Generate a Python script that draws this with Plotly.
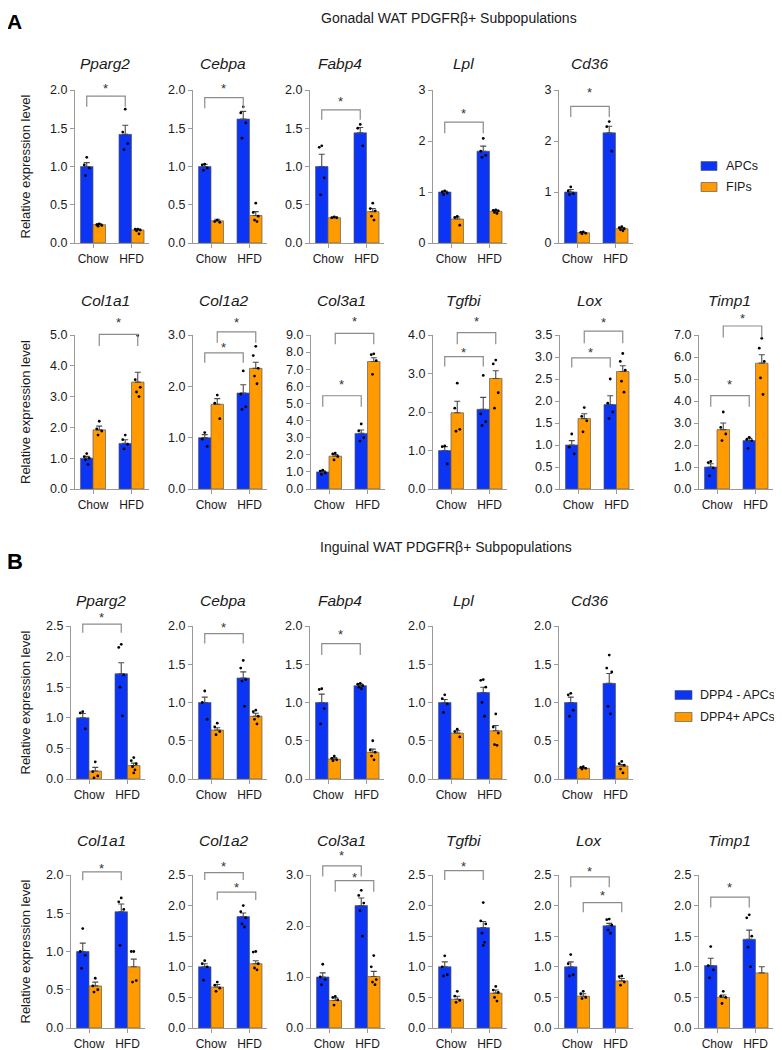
import plotly.graph_objects as go

W, H = 782, 1050

# ---------------- DATA ----------------
groups = ["Chow", "HFD"]
genes = ["Pparg2", "Cebpa", "Fabp4", "Lpl", "Cd36",
         "Col1a1", "Col1a2", "Col3a1", "Tgfbi", "Lox", "Timp1"]

gon_title = "Gonadal WAT PDGFRβ+ Subpopulations"
ing_title = "Inguinal WAT PDGFRβ+ Subpopulations"
gon_series = ["APCs", "FIPs"]
ing_series = ["DPP4 - APCs", "DPP4+ APCs"]

# Gonadal: series 1 = APCs, series 2 = FIPs ; each entry [Chow, HFD]
gon_s1_mean = [[1.00, 1.42], [1.00, 1.62], [1.00, 1.44], [1.00, 1.80], [1.00, 2.16],
               [1.00, 1.48], [1.00, 1.87], [1.00, 3.25], [1.00, 2.07], [1.00, 1.92], [1.00, 2.20]]
gon_s1_sem = [[0.05, 0.12], [0.03, 0.10], [0.16, 0.07], [0.02, 0.10], [0.05, 0.13],
              [0.06, 0.12], [0.06, 0.16], [0.06, 0.20], [0.10, 0.31], [0.10, 0.20], [0.15, 0.10]]
gon_s2_mean = [[0.24, 0.17], [0.29, 0.36], [0.33, 0.41], [0.47, 0.62], [0.20, 0.28],
               [1.92, 3.47], [1.65, 2.35], [1.92, 7.45], [1.98, 2.87], [1.60, 2.67], [2.70, 5.72]]
gon_s2_sem = [[0.01, 0.01], [0.02, 0.05], [0.01, 0.04], [0.04, 0.02], [0.01, 0.02],
              [0.12, 0.32], [0.11, 0.12], [0.10, 0.22], [0.30, 0.20], [0.11, 0.13], [0.30, 0.38]]
gon_s1_dots = [
    [[1.12, 1.02, 0.98, 0.88], [1.75, 1.45, 1.30, 1.22]],
    [[1.03, 1.02, 0.98, 0.95], [1.78, 1.70, 1.57, 1.37]],
    [[1.27, 1.25, 0.85, 0.63], [1.55, 1.50, 1.27]],
    [[1.02, 1.00, 0.98, 0.95], [2.05, 1.80, 1.72, 1.68]],
    [[1.10, 1.02, 0.97, 0.95], [2.38, 2.28, 1.80]],
    [[1.15, 1.05, 1.00, 0.95, 0.80], [1.75, 1.60, 1.45, 1.30]],
    [[1.10, 0.97, 0.83], [2.30, 1.85, 1.60, 1.55]],
    [[1.10, 1.05, 0.95, 0.85], [3.80, 3.40, 3.00, 2.80]],
    [[1.12, 1.10, 0.65], [2.95, 1.95, 1.75, 1.65]],
    [[1.25, 0.95, 0.80], [2.50, 1.95, 1.75, 1.60]],
    [[1.25, 1.20, 0.95, 0.60], [2.35, 2.25, 2.20, 1.85]],
]
gon_s2_dots = [
    [[0.25, 0.24, 0.23, 0.22], [0.18, 0.18, 0.17, 0.16, 0.12]],
    [[0.30, 0.28, 0.27], [0.52, 0.40, 0.35, 0.30, 0.28]],
    [[0.34, 0.33, 0.33], [0.52, 0.45, 0.42, 0.35, 0.30]],
    [[0.52, 0.50, 0.35], [0.65, 0.64, 0.63, 0.60, 0.58]],
    [[0.22, 0.21, 0.19, 0.18], [0.32, 0.30, 0.28, 0.26, 0.24]],
    [[2.20, 1.95, 1.88, 1.75], [4.98, 3.55, 3.30, 3.15, 3.00]],
    [[1.83, 1.67, 1.37], [2.78, 2.60, 2.35, 2.20, 2.05]],
    [[2.10, 2.05, 1.90, 1.70], [7.90, 7.85, 7.50, 6.70]],
    [[2.75, 2.10, 1.55, 1.50], [3.35, 3.25, 2.50, 2.10]],
    [[1.85, 1.65, 1.55, 1.30], [3.08, 2.90, 2.70, 2.45, 2.20]],
    [[3.50, 2.80, 2.50, 2.20], [6.85, 6.40, 5.80, 5.05, 4.30]],
]

# Inguinal: series 1 = DPP4- APCs, series 2 = DPP4+ APCs
ing_s1_mean = [[1.00, 1.72], [1.00, 1.32], [1.00, 1.22], [1.00, 1.13], [1.00, 1.25],
               [1.00, 1.52], [1.00, 1.82], [1.00, 2.40], [1.00, 1.64], [1.00, 1.67], [1.02, 1.45]]
ing_s1_sem = [[0.07, 0.18], [0.07, 0.08], [0.11, 0.02], [0.04, 0.07], [0.07, 0.13],
              [0.11, 0.10], [0.05, 0.06], [0.08, 0.15], [0.08, 0.10], [0.08, 0.04], [0.12, 0.15]]
ing_s2_mean = [[0.13, 0.22], [0.64, 0.82], [0.26, 0.35], [0.60, 0.63], [0.14, 0.17],
               [0.55, 0.80], [0.67, 1.05], [0.54, 1.01], [0.47, 0.57], [0.52, 0.77], [0.50, 0.90]]
ing_s2_sem = [[0.06, 0.04], [0.03, 0.04], [0.02, 0.04], [0.03, 0.07], [0.01, 0.02],
              [0.05, 0.10], [0.04, 0.05], [0.05, 0.10], [0.05, 0.05], [0.04, 0.04], [0.04, 0.10]]
ing_s1_dots = [
    [[1.10, 1.08, 0.82], [2.20, 2.15, 1.70, 1.50, 1.03]],
    [[1.15, 1.00, 0.78], [1.55, 1.45, 1.30, 1.28, 0.95]],
    [[1.18, 1.17, 0.92, 0.72], [1.25, 1.24, 1.22, 1.20, 1.18]],
    [[1.10, 1.05, 0.98, 0.87], [1.30, 1.29, 1.20, 1.00, 0.82]],
    [[1.12, 1.10, 0.90, 0.82], [1.62, 1.45, 1.40, 0.95, 0.85]],
    [[1.30, 1.00, 0.95, 0.78], [1.70, 1.65, 1.55, 1.08]],
    [[1.10, 1.05, 1.00, 0.78], [2.00, 1.90, 1.80, 1.70, 1.65]],
    [[1.25, 1.00, 0.95, 0.85], [2.70, 2.60, 2.45, 2.30, 1.80]],
    [[1.18, 1.00, 0.87, 0.85], [2.05, 1.75, 1.70, 1.55, 1.40, 1.35]],
    [[1.20, 1.05, 0.87, 0.85], [1.78, 1.77, 1.68, 1.60, 1.55]],
    [[1.33, 1.02, 0.95, 0.82], [1.85, 1.80, 1.50, 1.32, 1.00]],
]
ing_s2_dots = [
    [[0.28, 0.12, 0.05, 0.02], [0.35, 0.30, 0.25, 0.20, 0.15, 0.10]],
    [[0.73, 0.68, 0.62, 0.58], [0.90, 0.88, 0.82, 0.78, 0.72]],
    [[0.30, 0.27, 0.25, 0.24], [0.50, 0.38, 0.35, 0.30, 0.25]],
    [[0.65, 0.62, 0.55], [0.85, 0.68, 0.60, 0.45, 0.44]],
    [[0.16, 0.15, 0.14, 0.13], [0.23, 0.20, 0.18, 0.13, 0.08]],
    [[0.65, 0.55, 0.50, 0.47], [1.00, 1.00, 0.62, 0.60]],
    [[0.75, 0.70, 0.65, 0.60], [1.25, 1.24, 1.05, 0.98, 0.95]],
    [[0.62, 0.60, 0.55, 0.45], [1.42, 1.20, 0.95, 0.90, 0.85]],
    [[0.60, 0.52, 0.45, 0.42], [0.68, 0.62, 0.58, 0.50, 0.44]],
    [[0.60, 0.56, 0.50, 0.48], [0.85, 0.84, 0.75, 0.70]],
    [[0.60, 0.52, 0.50, 0.40], []],
]

# y axis scales (max, step, format)
gon_ymax = [2, 2, 2, 3, 3, 5, 3, 9, 4, 3.5, 7]
gon_ystep = [0.5, 0.5, 0.5, 1, 1, 1, 1, 1, 1, 0.5, 1]
gon_yfmt = [".1f", ".1f", ".1f", "d", "d", ".1f", ".1f", ".1f", ".1f", ".1f", ".1f"]
ing_ymax = [2.5, 2, 2, 2, 2, 2, 2.5, 3, 2.5, 2.5, 2.5]
ing_ystep = [0.5, 0.5, 0.5, 0.5, 0.5, 0.5, 0.5, 1, 0.5, 0.5, 0.5]
ing_yfmt = [".1f"] * 11

# significance comparisons: bar 0=s1 Chow, 1=s2 Chow, 2=s1 HFD, 3=s2 HFD
gon_sig = [[(0, 2)], [(0, 2)], [(0, 2)], [(0, 2)], [(0, 2)], [(1, 3)],
           [(0, 2), (1, 3)], [(0, 2), (1, 3)], [(0, 2), (1, 3)], [(0, 2), (1, 3)], [(0, 2), (1, 3)]]
ing_sig = [[(0, 2)], [(0, 2)], [(0, 2)], [], [], [(0, 2)],
           [(0, 2), (1, 3)], [(0, 2), (1, 3)], [(0, 2)], [(0, 2), (1, 3)], [(0, 2)]]

# ---------------- LAYOUT / STYLE ----------------
# bracket placement (line level, leg bottom, star level) in data units
gon_br = [
    [(1.92, 1.78, 2.06)], [(1.90, 1.76, 2.06)], [(1.74, 1.61, 1.89)],
    [(2.37, 2.15, 2.60)], [(2.68, 2.47, 3.00)], [(5.02, 4.64, 5.50)],
    [(2.65, 2.46, 2.82), (3.06, 2.85, 3.31)],
    [(5.45, 4.80, 6.30), (9.10, 8.46, 9.94)],
    [(3.44, 3.18, 3.63), (4.06, 3.76, 4.42)],
    [(2.98, 2.76, 3.17), (3.59, 3.31, 3.86)],
    [(4.24, 3.74, 4.87), (7.41, 6.89, 7.88)],
]
ing_br = [
    [(2.53, 2.39, 2.68)], [(1.90, 1.77, 2.02)], [(1.77, 1.62, 1.93)], [], [],
    [(2.04, 1.93, 2.13)],
    [(2.54, 2.42, 2.69), (2.22, 2.09, 2.34)],
    [(3.18, 2.97, 3.44), (2.89, 2.67, 3.01)],
    [(2.57, 2.42, 2.69)],
    [(2.47, 2.30, 2.61), (2.05, 1.89, 2.22)],
    [(2.14, 1.97, 2.34)],
]

datasets = {
    "gon": dict(m1=gon_s1_mean, e1=gon_s1_sem, m2=gon_s2_mean, e2=gon_s2_sem,
                d1=gon_s1_dots, d2=gon_s2_dots, ymax=gon_ymax, ystep=gon_ystep,
                yfmt=gon_yfmt, sig=gon_sig, br=gon_br),
    "ing": dict(m1=ing_s1_mean, e1=ing_s1_sem, m2=ing_s2_mean, e2=ing_s2_sem,
                d1=ing_s1_dots, d2=ing_s2_dots, ymax=ing_ymax, ystep=ing_ystep,
                yfmt=ing_yfmt, sig=ing_sig, br=ing_br),
}

# pixel geometry in page coordinates
rows = [
    dict(ds="gon", idx=list(range(0, 5)), top=90, bot=243, c0=[93, 211, 328, 451, 577], ty=63),
    dict(ds="gon", idx=list(range(5, 11)), top=335, bot=489, c0=[93, 211, 329, 451, 578, 717], ty=300),
    dict(ds="ing", idx=list(range(0, 5)), top=626, bot=779, c0=[89, 211, 328, 451, 577], ty=600),
    dict(ds="ing", idx=list(range(5, 11)), top=875, bot=1028, c0=[89, 211, 329, 451, 577, 717], ty=840),
]

# the page body adds an 8px offset; figure is sized/placed to compensate
OFF = 8
FW, FH = W - OFF, H - OFF


def fx(p):
    return (p - OFF) / FW


def fy(p):
    return 1 - (p - OFF) / FH


BLUE = "#0b34f4"
ORANGE = "#ff9a00"
AXC = "#9a9a9a"
TXT = "#1a1a1a"
FONT = "Liberation Sans, Arial, sans-serif"
UNIT = 38.5
XL, XR = -18 / UNIT, 55.5 / UNIT
BW = 0.325
bar_x = [-BW / 2, BW / 2, 1 - BW / 2, 1 + BW / 2]
jit = [0.0, -0.065, 0.065, -0.032, 0.032, 0.0]

fig = go.Figure()
layout = dict(
    width=FW, height=FH, margin=dict(l=0, r=0, t=0, b=0, autoexpand=False),
    paper_bgcolor="white", plot_bgcolor="white",
    barmode="group", bargap=0.35, bargroupgap=0,
    showlegend=False, font=dict(family=FONT, color=TXT, size=12),
)
shapes, annos = [], []


def txt(x, y, text, size, **kw):
    d = dict(x=x, y=y, xref="paper", yref="paper", text=text, showarrow=False,
             xanchor=kw.pop("xanchor", "center"), yanchor=kw.pop("yanchor", "middle"),
             font=dict(size=size, color=kw.pop("color", TXT), family=FONT))
    d.update(kw)
    return d


k = 0
for row in rows:
    ds = datasets[row["ds"]]
    for j, gi in enumerate(row["idx"]):
        k += 1
        c0 = row["c0"][j]
        xd = [fx(c0 - 18), fx(c0 + 55.5)]
        yd = [fy(row["bot"]), fy(row["top"])]
        ymax, ystep = ds["ymax"][gi], ds["ystep"][gi]
        nt = int(round(ymax / ystep))
        tv = [i * ystep for i in range(nt + 1)]
        if ds["yfmt"][gi] == "d":
            tt = [str(int(v)) for v in tv]
        else:
            tt = [f"{v:.1f}" for v in tv]
        sfx = "" if k == 1 else str(k)
        layout["xaxis" + sfx] = dict(
            domain=xd, range=[XL, XR], anchor="y" + sfx, showgrid=False, zeroline=False,
            showline=True, linecolor=AXC, linewidth=1.3, ticks="outside", ticklen=4,
            tickcolor=AXC, tickwidth=1.2, tickvals=[0, 1], ticktext=groups,
            tickfont=dict(size=12, color=TXT, family=FONT), fixedrange=True)
        layout["yaxis" + sfx] = dict(
            domain=yd, range=[0, ymax], anchor="x" + sfx, showgrid=False, zeroline=False,
            showline=True, linecolor=AXC, linewidth=1.3, ticks="outside", ticklen=4,
            tickcolor=AXC, tickwidth=1.2, tickvals=tv, ticktext=tt,
            tickfont=dict(size=12.5, color=TXT, family=FONT), fixedrange=True)
        xa, ya = "x" + sfx, "y" + sfx

        for s, col in ((1, BLUE), (2, ORANGE)):
            fig.add_trace(go.Bar(
                x=[0, 1], y=ds["m%d" % s][gi], xaxis=xa, yaxis=ya,
                marker=dict(color=col, line=dict(color="rgba(90,90,90,0.85)", width=0.8)),
                error_y=dict(type="data", array=ds["e%d" % s][gi], arrayminus=[0, 0],
                             symmetric=False, color="#4a4a4a", thickness=1.1, width=3),
                offsetgroup=str(s), showlegend=False, hoverinfo="skip"))
        for s in (1, 2):
            for g in (0, 1):
                vals = ds["d%d" % s][gi][g]
                if not vals:
                    continue
                bx = bar_x[(s - 1) + 2 * g]
                fig.add_trace(go.Scatter(
                    x=[bx + jit[i % len(jit)] for i in range(len(vals))], y=vals,
                    xaxis=xa, yaxis=ya, mode="markers", cliponaxis=False,
                    marker=dict(color="black", size=2.8), showlegend=False, hoverinfo="skip"))

        # significance brackets (data -> paper through this panel's axis mapping)
        def px(xv, xd=xd):
            return xd[0] + (xv - XL) / (XR - XL) * (xd[1] - xd[0])

        def py(yv, yd=yd, ymax=ymax):
            return yd[0] + yv / ymax * (yd[1] - yd[0])

        for (a, b), (yl, yt, ys) in zip(ds["sig"][gi], ds["br"][gi]):
            xa0, xb0 = px(bar_x[a]), px(bar_x[b])
            shapes.append(dict(
                type="path", xref="paper", yref="paper",
                path=f"M {xa0},{py(yt)} L {xa0},{py(yl)} L {xb0},{py(yl)} L {xb0},{py(yt)}",
                line=dict(color="#8c8c8c", width=1.2)))
            annos.append(txt((xa0 + xb0) / 2, py(ys), "*", 13, color="#333", yshift=-3))

        # gene title
        annos.append(txt(fx(c0 + 12), fy(row["ty"]), f"<i>{genes[gi]}</i>", 15.5))
        if j == 0:
            annos.append(txt(fx(25), fy((row["top"] + row["bot"]) / 2),
                             "Relative expression level", 13, textangle=-90))

# section titles & panel letters
annos += [
    txt(fx(449), 1, gon_title, 14, yanchor="top"),
    txt(fx(446), fy(547), ing_title, 14),
    txt(fx(5), 1, "<b>A</b>", 21, xanchor="left", yanchor="top", color="black"),
    txt(fx(5), fy(561), "<b>B</b>", 22, xanchor="left", color="black"),
]

# legends
for names, bx0, bx1, tx, ycs in ((gon_series, 701, 717, 724, (166, 187)),
                                 (ing_series, 675, 692, 698, (695, 717))):
    for name, col, yc in zip(names, (BLUE, ORANGE), ycs):
        shapes.append(dict(type="rect", xref="paper", yref="paper",
                           x0=fx(bx0), x1=fx(bx1), y0=fy(yc + 4.5), y1=fy(yc - 4.5),
                           fillcolor=col, line=dict(color="rgba(90,90,90,0.85)", width=0.8)))
        annos.append(txt(fx(tx), fy(yc), name, 12.5, xanchor="left"))

layout["shapes"] = shapes
layout["annotations"] = annos
fig.update_layout(**layout)
fig.write_html("out.html")
